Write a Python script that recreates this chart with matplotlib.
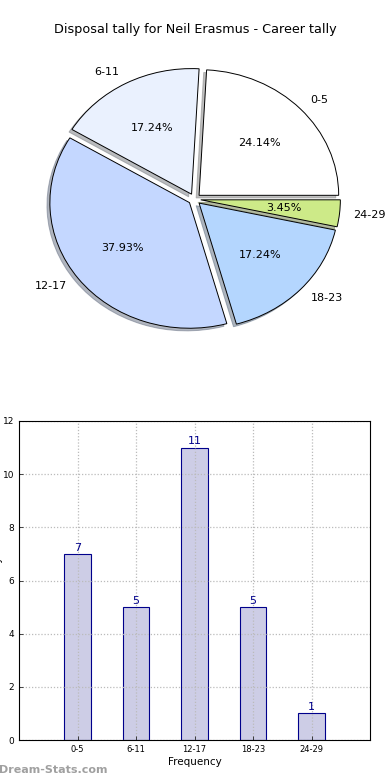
'''
Disposal tally chart: exploded pie on top, frequency bars below
'''

import numpy             as np
import matplotlib.pyplot as plt

# Data
ranges      = [ '0-5', '6-11', '12-17', '18-23', '24-29' ]
games       = [ 7, 5, 11, 5, 1 ]
pie_colors  = [ '#FFFFFF', '#EAF1FE', '#C4D7FF', '#B4D6FE', '#CDEA88' ]
title       = 'Disposal tally for Neil Erasmus - Career tally'

W, H = 390, 780
fig  = plt.figure( figsize = ( W / 100, H / 100 ), dpi = 100 )
fig.patch.set_facecolor( 'white' )

# Pie (not equal aspect, slightly elliptical like the original)
ax1 = fig.add_axes( [ 13.0 / W, 417.5 / H, 363 / W, 326.6 / H ] )
wedges, texts, autotexts = ax1.pie(
    games,
    labels        = ranges,
    colors        = pie_colors,
    explode       = [ 0.045 ] * len( games ),
    autopct       = '%.2f%%',
    pctdistance   = 0.6,
    labeldistance = 1.1,
    shadow        = { 'ox': -0.015, 'oy': -0.015, 'shade': 0.5 },
    startangle    = 0,
    wedgeprops    = { 'edgecolor': 'black', 'linewidth': 0.7 },
    textprops     = { 'fontsize': 8 },
)
ax1.set_aspect( 'auto' )
ax1.set_xlim( -1.3, 1.3 )
ax1.set_ylim( -1.3, 1.3 )
ax1.axis( 'off' )
fig.text( 0.5, 1 - 30 / H, title, ha = 'center', va = 'center', fontsize = 9.2 )

# Bars
ax2 = fig.add_axes( [ 19 / W, 40 / H, 351 / W, 319 / H ] )
x = np.arange( 1, len( games ) + 1 )
bars = ax2.bar( x, games, width = 0.45, color = '#CDCDE6', edgecolor = '#00008B', linewidth = 0.8, zorder = 2 )
for xi, g in zip( x, games ):
    ax2.text( xi, g + 0.05, str( g ), ha = 'center', va = 'bottom', color = '#00008B', fontsize = 8 )

ax2.set_xlim( 0, len( games ) + 1 )
ax2.set_ylim( 0, 12 )
ax2.set_xticks( x )
ax2.set_xticklabels( ranges )
ax2.set_yticks( range( 0, 13, 2 ) )
ax2.tick_params( axis = 'x', labelsize = 6, direction = 'in', length = 3, width = 0.5 )
ax2.tick_params( axis = 'y', labelsize = 6.5, direction = 'in', length = 3, width = 0.5 )
ax2.grid( True, linestyle = ( 0, ( 1, 1.5 ) ), color = '#BBBBBB', linewidth = 0.9, zorder = 3 )
ax2.set_axisbelow( False )
ax2.set_xlabel( 'Frequency', fontsize = 7.5, labelpad = 2 )
ax2.set_ylabel( 'Games Played', fontsize = 7.5 )
ax2.yaxis.set_label_coords( -0.046, 0.5 )
for s in ax2.spines.values():
    s.set_linewidth( 0.8 )
    s.set_zorder( 5 )

fig.text( -1 / W, 1 - 770 / H, 'Dream-Stats.com', ha = 'left', va = 'center',
          fontsize = 8, fontweight = 'bold', color = '#A0A0A0' )

fig.savefig( 'out.png', dpi = 100 )
